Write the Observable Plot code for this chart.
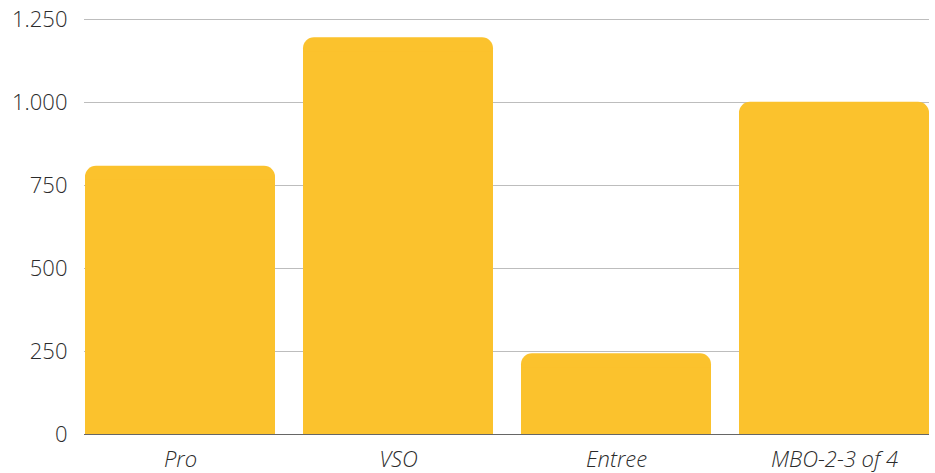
<!DOCTYPE html>
<html>
<head>
<meta charset="utf-8">
<script src="https://cdn.jsdelivr.net/npm/d3@7"></script>
<script src="https://cdn.jsdelivr.net/npm/@observablehq/plot@0.6"></script>
<style>
  html, body { margin: 0; padding: 0; background: #fff; }
  #chart { width: 935px; height: 473px; }
  svg { font-family: "Open Sans", sans-serif; }
</style>
</head>
<body>
<div id="chart"></div>
<script>
const categories = ["Pro", "VSO", "Entree", "MBO-2-3 of 4"];
const values = [808, 1195, 243, 1001];
const yTicks = [0, 250, 500, 750, 1000, 1250];

const data = categories.map((c, i) => ({category: c, value: values[i]}));
const fmt = d3.formatLocale({decimal: ",", thousands: ".", grouping: [3], currency: ["€", ""]}).format(",d");
const barColor = "#FBC22D";

const chart = Plot.plot({
  width: 935,
  height: 473,
  marginTop: 19,
  marginBottom: 39,
  marginLeft: 84,
  marginRight: 6,
  style: {fontFamily: "Open Sans, sans-serif", fontSize: "22px", color: "#2b2b2b", background: "#fff"},
  x: {domain: categories, paddingInner: 0.13, paddingOuter: 0, label: null},
  y: {domain: [0, 1250], label: null},
  marks: [
    Plot.gridY(yTicks, {stroke: "#bdbdbd", strokeOpacity: 1, strokeWidth: 1}),
    Plot.barY(data, {x: "category", y: "value", fill: barColor, rx: 11}),
    Plot.barY(data, {x: "category", y: "value", fill: barColor, insetTop: 14}),
    Plot.ruleY([0], {stroke: "#666", strokeWidth: 1.2}),
    Plot.axisY({ticks: yTicks, tickFormat: fmt, tickSize: 0, tickPadding: 17, fontSize: 22, fontWeight: 300, fill: "#2b2b2b", label: null}),
    Plot.axisX({tickSize: 0, tickPadding: 17, fontSize: 22, fontWeight: 300, fontStyle: "italic", fill: "#2b2b2b", label: null})
  ]
});
document.getElementById("chart").appendChild(chart);
</script>
</body>
</html>
